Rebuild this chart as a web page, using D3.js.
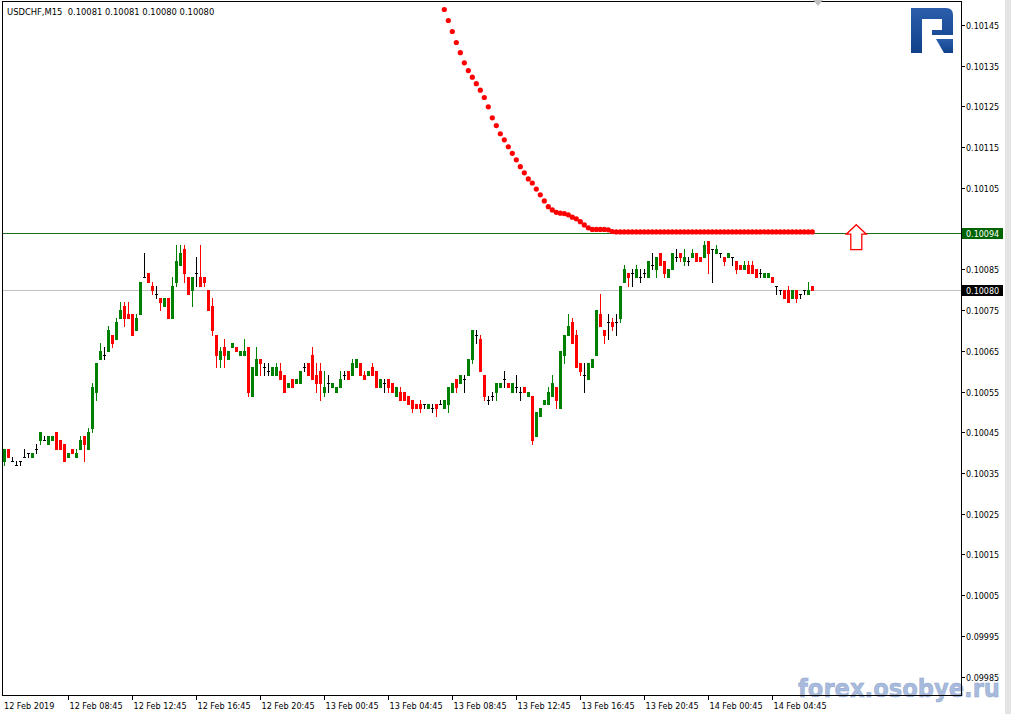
<!DOCTYPE html>
<html><head><meta charset="utf-8">
<script src="https://cdn.jsdelivr.net/npm/d3@7"></script>
<style>html,body{margin:0;padding:0;background:#fff;overflow:hidden}</style>
</head><body>
<svg id="c" width="1011" height="714"></svg>
<script>
const chartTitle = "USDCHF,M15  0.10081 0.10081 0.10080 0.10080";
const openP = [
0.10038,0.10041,0.10038,0.10037,0.10038,0.10039,0.10040,0.10039,0.10041,0.10043,
0.10043,0.10042,0.10043,0.10045,0.10043,0.10042,0.10039,0.10041,0.10039,0.10041,
0.10044,0.10041,0.10046,0.10055,0.10063,0.10064,0.10065,0.10069,0.10068,0.10073,
0.10076,0.10074,0.10074,0.10070,0.10074,0.10083,0.10084,0.10081,0.10079,0.10078,
0.10076,0.10078,0.10073,0.10082,0.10086,0.10090,0.10083,0.10080,0.10084,0.10083,
0.10083,0.10080,0.10076,0.10069,0.10063,0.10066,0.10063,0.10066,0.10066,0.10064,
0.10064,0.10066,0.10054,0.10059,0.10063,0.10061,0.10060,0.10059,0.10059,0.10060,
0.10059,0.10056,0.10058,0.10057,0.10057,0.10061,0.10062,0.10064,0.10059,0.10060,
0.10055,0.10057,0.10056,0.10055,0.10056,0.10059,0.10060,0.10059,0.10061,0.10062,
0.10059,0.10059,0.10061,0.10060,0.10056,0.10057,0.10058,0.10057,0.10054,0.10055,
0.10055,0.10054,0.10053,0.10052,0.10052,0.10052,0.10051,0.10051,0.10052,0.10052,
0.10051,0.10052,0.10055,0.10058,0.10057,0.10058,0.10059,0.10063,0.10069,0.10068,
0.10059,0.10053,0.10054,0.10055,0.10056,0.10058,0.10057,0.10055,0.10056,0.10055,
0.10056,0.10054,0.10054,0.10044,0.10049,0.10052,0.10052,0.10054,0.10056,0.10051,
0.10064,0.10069,0.10072,0.10069,0.10062,0.10059,0.10058,0.10061,0.10064,0.10074,
0.10070,0.10072,0.10072,0.10072,0.10073,0.10082,0.10084,0.10084,0.10083,0.10083,
0.10084,0.10083,0.10086,0.10085,0.10089,0.10087,0.10083,0.10085,0.10088,0.10089,
0.10087,0.10087,0.10088,0.10089,0.10088,0.10088,0.10092,0.10090,0.10089,0.10089,
0.10088,0.10088,0.10088,0.10087,0.10086,0.10085,0.10086,0.10086,0.10085,0.10084,
0.10083,0.10083,0.10083,0.10081,0.10080,0.10080,0.10080,0.10078,0.10080,0.10079,
0.10080,0.10079,0.10081];
const highP = [
0.10041,0.10041,0.10039,0.10038,0.10038,0.10041,0.10040,0.10040,0.10042,0.10045,
0.10044,0.10044,0.10044,0.10045,0.10043,0.10042,0.10040,0.10041,0.10041,0.10044,
0.10044,0.10046,0.10057,0.10062,0.10067,0.10066,0.10071,0.10069,0.10073,0.10077,
0.10077,0.10077,0.10074,0.10074,0.10082,0.10089,0.10084,0.10082,0.10081,0.10078,
0.10078,0.10078,0.10083,0.10091,0.10091,0.10091,0.10083,0.10083,0.10088,0.10091,
0.10083,0.10080,0.10078,0.10069,0.10066,0.10068,0.10065,0.10067,0.10066,0.10065,
0.10068,0.10066,0.10061,0.10066,0.10063,0.10062,0.10062,0.10061,0.10062,0.10062,
0.10059,0.10057,0.10058,0.10058,0.10060,0.10062,0.10062,0.10066,0.10062,0.10062,
0.10060,0.10059,0.10057,0.10056,0.10060,0.10060,0.10060,0.10063,0.10063,0.10062,
0.10060,0.10060,0.10062,0.10060,0.10058,0.10058,0.10058,0.10057,0.10056,0.10056,
0.10055,0.10054,0.10053,0.10052,0.10053,0.10052,0.10052,0.10052,0.10052,0.10053,
0.10053,0.10056,0.10057,0.10058,0.10059,0.10059,0.10063,0.10070,0.10070,0.10069,
0.10059,0.10054,0.10055,0.10057,0.10057,0.10060,0.10057,0.10057,0.10059,0.10056,
0.10056,0.10055,0.10054,0.10050,0.10051,0.10053,0.10056,0.10059,0.10056,0.10065,
0.10069,0.10074,0.10073,0.10070,0.10062,0.10062,0.10062,0.10063,0.10075,0.10079,
0.10070,0.10074,0.10073,0.10074,0.10081,0.10086,0.10084,0.10085,0.10086,0.10085,
0.10085,0.10087,0.10089,0.10088,0.10089,0.10087,0.10085,0.10089,0.10090,0.10089,
0.10090,0.10088,0.10090,0.10089,0.10088,0.10092,0.10092,0.10090,0.10091,0.10089,
0.10088,0.10089,0.10088,0.10087,0.10086,0.10087,0.10087,0.10087,0.10085,0.10085,
0.10084,0.10084,0.10083,0.10081,0.10080,0.10080,0.10081,0.10080,0.10080,0.10079,
0.10080,0.10082,0.10081];
const lowP = [
0.10037,0.10039,0.10038,0.10037,0.10037,0.10039,0.10039,0.10039,0.10040,0.10042,
0.10043,0.10042,0.10043,0.10041,0.10041,0.10038,0.10039,0.10040,0.10039,0.10041,
0.10038,0.10041,0.10045,0.10053,0.10063,0.10063,0.10065,0.10066,0.10068,0.10073,
0.10071,0.10073,0.10069,0.10070,0.10074,0.10083,0.10082,0.10079,0.10078,0.10075,
0.10076,0.10073,0.10073,0.10081,0.10086,0.10082,0.10079,0.10076,0.10081,0.10081,
0.10081,0.10075,0.10069,0.10061,0.10061,0.10061,0.10063,0.10066,0.10065,0.10064,
0.10064,0.10054,0.10054,0.10059,0.10059,0.10059,0.10059,0.10059,0.10059,0.10058,
0.10055,0.10056,0.10056,0.10057,0.10057,0.10060,0.10059,0.10058,0.10055,0.10053,
0.10054,0.10055,0.10056,0.10055,0.10056,0.10058,0.10058,0.10059,0.10061,0.10059,
0.10058,0.10059,0.10059,0.10056,0.10056,0.10055,0.10055,0.10055,0.10054,0.10053,
0.10053,0.10052,0.10050,0.10051,0.10050,0.10051,0.10051,0.10050,0.10049,0.10052,
0.10051,0.10050,0.10055,0.10055,0.10057,0.10055,0.10059,0.10062,0.10067,0.10060,
0.10053,0.10052,0.10053,0.10053,0.10056,0.10056,0.10056,0.10055,0.10055,0.10053,
0.10055,0.10054,0.10042,0.10044,0.10049,0.10052,0.10052,0.10054,0.10051,0.10051,
0.10062,0.10069,0.10067,0.10061,0.10059,0.10055,0.10058,0.10061,0.10064,0.10071,
0.10067,0.10068,0.10070,0.10069,0.10072,0.10082,0.10081,0.10081,0.10083,0.10082,
0.10083,0.10083,0.10085,0.10083,0.10086,0.10083,0.10083,0.10085,0.10087,0.10087,
0.10086,0.10086,0.10088,0.10087,0.10087,0.10088,0.10084,0.10082,0.10089,0.10088,
0.10086,0.10088,0.10086,0.10084,0.10085,0.10085,0.10084,0.10084,0.10083,0.10083,
0.10083,0.10083,0.10082,0.10079,0.10079,0.10078,0.10077,0.10078,0.10077,0.10078,
0.10079,0.10079,0.10080];
const closeP = [
0.10041,0.10039,0.10038,0.10037,0.10038,0.10039,0.10040,0.10040,0.10041,0.10045,
0.10043,0.10044,0.10044,0.10041,0.10041,0.10038,0.10040,0.10040,0.10040,0.10043,
0.10042,0.10045,0.10056,0.10062,0.10065,0.10064,0.10070,0.10067,0.10072,0.10075,
0.10073,0.10073,0.10069,0.10073,0.10082,0.10083,0.10082,0.10080,0.10079,0.10077,
0.10078,0.10073,0.10081,0.10087,0.10089,0.10084,0.10079,0.10083,0.10084,0.10081,
0.10082,0.10075,0.10070,0.10064,0.10065,0.10064,0.10065,0.10067,0.10065,0.10065,
0.10065,0.10055,0.10061,0.10063,0.10062,0.10061,0.10060,0.10061,0.10061,0.10058,
0.10055,0.10057,0.10056,0.10058,0.10060,0.10061,0.10059,0.10058,0.10057,0.10057,
0.10056,0.10057,0.10057,0.10056,0.10058,0.10059,0.10058,0.10062,0.10063,0.10059,
0.10058,0.10060,0.10059,0.10056,0.10058,0.10057,0.10056,0.10055,0.10056,0.10053,
0.10053,0.10052,0.10051,0.10051,0.10051,0.10052,0.10052,0.10051,0.10051,0.10052,
0.10053,0.10056,0.10057,0.10056,0.10059,0.10058,0.10063,0.10070,0.10069,0.10060,
0.10054,0.10053,0.10054,0.10057,0.10057,0.10058,0.10056,0.10057,0.10056,0.10055,
0.10055,0.10055,0.10043,0.10050,0.10051,0.10053,0.10055,0.10057,0.10053,0.10065,
0.10069,0.10071,0.10067,0.10061,0.10060,0.10059,0.10062,0.10063,0.10075,0.10071,
0.10069,0.10072,0.10071,0.10072,0.10081,0.10085,0.10083,0.10084,0.10085,0.10083,
0.10084,0.10087,0.10086,0.10088,0.10086,0.10084,0.10085,0.10089,0.10088,0.10088,
0.10088,0.10087,0.10089,0.10087,0.10087,0.10091,0.10089,0.10090,0.10090,0.10089,
0.10087,0.10089,0.10088,0.10085,0.10085,0.10086,0.10084,0.10084,0.10083,0.10084,
0.10084,0.10084,0.10082,0.10081,0.10080,0.10078,0.10077,0.10080,0.10078,0.10079,
0.10080,0.10080,0.10080];
const sarFirstBar = 110;
const sarP = [
0.101488,0.101461,0.101434,0.101407,0.101382,0.101357,0.101338,0.101322,0.101306,0.101290,
0.101272,0.101249,0.101222,0.101203,0.101183,0.101168,0.101151,0.101135,0.101119,0.101102,
0.101087,0.101072,0.101062,0.101047,0.101033,0.101018,0.101004,0.100996,0.100990,0.100988,
0.100987,0.100984,0.100978,0.100974,0.100967,0.100959,0.100952,0.100948,0.100948,0.100948,
0.100948,0.100947,0.100943,0.100942,0.100942,0.100942,0.100942,0.100942,0.100942,0.100942,
0.100942,0.100942,0.100942,0.100942,0.100942,0.100942,0.100942,0.100942,0.100942,0.100942,
0.100942,0.100942,0.100942,0.100942,0.100942,0.100942,0.100942,0.100942,0.100942,0.100942,
0.100942,0.100942,0.100942,0.100942,0.100942,0.100942,0.100942,0.100942,0.100942,0.100942,
0.100942,0.100942,0.100942,0.100942,0.100942,0.100942,0.100942,0.100942,0.100942,0.100942,
0.100942,0.100942,0.100942];
const timeLabels = ["12 Feb 2019","12 Feb 08:45","12 Feb 12:45","12 Feb 16:45","12 Feb 20:45",
  "13 Feb 00:45","13 Feb 04:45","13 Feb 08:45","13 Feb 12:45","13 Feb 16:45","13 Feb 20:45",
  "14 Feb 00:45","14 Feb 04:45"];
const timeLabelBars = [0,16,32,48,64,80,96,112,128,144,160,176,192];
const priceTicks = [0.10145,0.10135,0.10125,0.10115,0.10105,0.10095,0.10085,0.10075,0.10065,
  0.10055,0.10045,0.10035,0.10025,0.10015,0.10005,0.09995,0.09985];
const levelPrice = 0.10094;
const bidPrice = 0.10080;
const arrowBar = 213;

const svg = d3.select("#c");
const W = 1011, H = 714;
const L = 3, R = 961, T = 2, B = 696;
const n = openP.length;

const x = d3.scaleLinear().domain([0, n - 1]).range([4.3, 812.3]);
const y = d3.scaleLinear().domain([0.09985, 0.10145]).range([676.6, 25]);

svg.append("rect").attr("width", W).attr("height", H).attr("fill", "#fff");

// logo
const defs = svg.append("defs");
const grad = defs.append("linearGradient").attr("id","lg").attr("x1",0).attr("y1",0).attr("x2",0).attr("y2",1);
grad.append("stop").attr("offset","0").attr("stop-color","#2a5eab");
grad.append("stop").attr("offset","1").attr("stop-color","#10418a");
const logo = svg.append("g").attr("transform", "translate(911,8)");
logo.append("path").attr("fill","url(#lg)")
  .attr("d","M0,0 H35 Q42,0 42,7 V27 H21 V22 H31 V11 H11 V45 H0 Z");
logo.append("path").attr("fill","url(#lg)")
  .attr("d","M25,31 H42 V45 H33 Z");

// watermark
svg.append("text").attr("x", 798).attr("y", 697)
  .attr("font-family","DejaVu Sans").attr("font-weight","bold").attr("font-size", 25)
  .attr("textLength", 202).attr("lengthAdjust","spacingAndGlyphs")
  .attr("fill","#a9bbdc").attr("stroke","#8ea3cc").attr("stroke-width",0.5)
  .text("forex.osobye.ru");

// horizontal lines
svg.append("line").attr("x1", L).attr("x2", R).attr("y1", Math.round(y(bidPrice)) + 0.5).attr("y2", Math.round(y(bidPrice)) + 0.5)
  .attr("stroke", "#c0c0c0").attr("stroke-width", 1);
svg.append("line").attr("x1", L).attr("x2", R).attr("y1", Math.round(y(levelPrice)) + 0.5).attr("y2", Math.round(y(levelPrice)) + 0.5)
  .attr("stroke", "#1b6b1b").attr("stroke-width", 1);

// candles
const green = "#008000", red = "#ff0000";
const bars = d3.range(n).map(i => ({i, o: openP[i], h: highP[i], l: lowP[i], c: closeP[i]}));
const col = d => d.c > d.o ? green : (d.c < d.o ? red : "#000");
const g = svg.append("g");
g.selectAll("line.w").data(bars).join("line")
  .attr("x1", d => Math.round(x(d.i)) + 0.5).attr("x2", d => Math.round(x(d.i)) + 0.5)
  .attr("y1", d => Math.round(y(d.h))).attr("y2", d => Math.round(y(d.l)) + 1)
  .attr("stroke", col).attr("stroke-width", 1);
g.selectAll("rect.b").data(bars).join("rect")
  .attr("x", d => Math.round(x(d.i)) - 1)
  .attr("y", d => Math.round(y(Math.max(d.o, d.c))))
  .attr("width", 3)
  .attr("height", d => Math.max(1, Math.round(y(Math.min(d.o, d.c))) - Math.round(y(Math.max(d.o, d.c))) + 1))
  .attr("fill", col);

// SAR dots
svg.append("g").selectAll("circle").data(sarP).join("circle")
  .attr("cx", (v, k) => x(sarFirstBar + k)).attr("cy", v => y(v))
  .attr("r", 2.6).attr("fill", "#ff0000");

// arrow
const ax = x(arrowBar), ay = y(levelPrice);
svg.append("path")
  .attr("d", `M${ax},${ay-8} L${ax+10},${ay+1.5} L${ax+5.5},${ay+1.5} L${ax+5.5},${ay+17} L${ax-5.5},${ay+17} L${ax-5.5},${ay+1.5} L${ax-10},${ay+1.5} Z`)
  .attr("fill", "#fff").attr("stroke", "#ff0000").attr("stroke-width", 1.3);

// frame
svg.append("rect").attr("x", L - 0.5).attr("y", T - 0.5).attr("width", R - L + 1).attr("height", B - T)
  .attr("fill", "none").attr("stroke", "#000").attr("stroke-width", 1);
svg.append("path").attr("d", "M813,0 L823,0 L818,6 Z").attr("fill", "#c0c0c0");
svg.append("rect").attr("x", 1005).attr("y", 0).attr("width", 6).attr("height", H).attr("fill", "#e4e4e4");

// title
svg.append("text").attr("x", 7).attr("y", 15).style("white-space", "pre")
  .attr("font-family", "DejaVu Sans").attr("font-size", 8.4).attr("fill", "#000")
  .text(chartTitle);

// price axis (labels hidden behind the price boxes are skipped)
const pa = svg.append("g");
const boxed = [levelPrice, bidPrice];
priceTicks.forEach(p => {
  const yy = Math.round(y(p)) + 0.5;
  pa.append("line").attr("x1", R).attr("x2", R + 4).attr("y1", yy).attr("y2", yy).attr("stroke", "#000");
  const hidden = boxed.some(b => Math.abs(y(b) - y(p)) < 9);
  if (!hidden) pa.append("text").attr("x", 966).attr("y", yy + 3).attr("font-family", "DejaVu Sans")
    .attr("font-size", 8).attr("fill", "#000").text(p.toFixed(5));
});
function priceBox(p, fill) {
  const yy = Math.round(y(p)) + 0.5;
  pa.append("rect").attr("x", 962).attr("y", yy - 5.5).attr("width", 41).attr("height", 11).attr("fill", fill);
  pa.append("text").attr("x", 966).attr("y", yy + 3).attr("font-family", "DejaVu Sans")
    .attr("font-size", 8).attr("fill", "#fff").text(p.toFixed(5));
}
priceBox(levelPrice, "#006400");
priceBox(bidPrice, "#000");

// time axis
const ta = svg.append("g");
timeLabels.forEach((t, k) => {
  const xx = Math.round(x(timeLabelBars[k])) + 0.5;
  if (k > 0) ta.append("line").attr("x1", xx).attr("x2", xx).attr("y1", B).attr("y2", B + 4).attr("stroke", "#000");
  ta.append("text").attr("x", k === 0 ? 4 : xx + 1).attr("y", 708.5).attr("font-family", "DejaVu Sans")
    .attr("font-size", 8.1).attr("fill", "#000").text(t);
});
</script>
</body></html>
